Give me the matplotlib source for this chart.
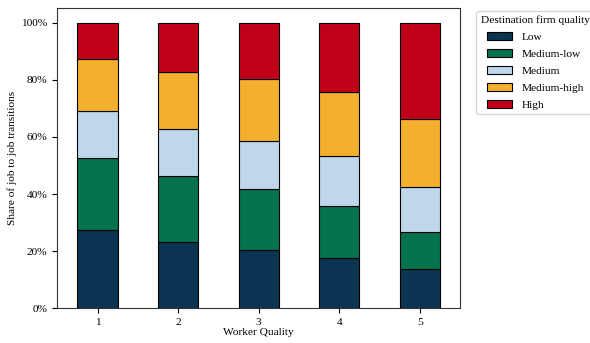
import matplotlib
matplotlib.use("Agg")
import matplotlib.pyplot as plt
import numpy as np
from matplotlib.ticker import PercentFormatter

plt.rcParams.update({
    "font.family": "serif",
    "font.serif": ["Liberation Serif", "DejaVu Serif"],
    "font.size": 8.2,
})

# Shares of job-to-job moves by destination firm quality, per worker quality bin
worker_quality = ["1", "2", "3", "4", "5"]
categories = ["Low", "Medium-low", "Medium", "Medium-high", "High"]
low = [0.274, 0.231, 0.205, 0.175, 0.138]
medium_low = [0.252, 0.231, 0.213, 0.183, 0.128]
medium = [0.164, 0.165, 0.169, 0.174, 0.159]
medium_high = [0.182, 0.201, 0.215, 0.226, 0.237]
high = [0.128, 0.172, 0.198, 0.242, 0.338]

colors = ["#0b3552", "#05734d", "#bfd7ea", "#f4af2f", "#c00018"]

fig = plt.figure(figsize=(5.9, 3.43), dpi=100)
ax = fig.add_axes([0.097, 0.101, 0.683, 0.875])

x = np.arange(len(worker_quality))
bottom = np.zeros(len(x))
for name, vals, col in zip(categories, [low, medium_low, medium, medium_high, high], colors):
    ax.bar(x, vals, width=0.5, bottom=bottom, color=col, edgecolor="black",
           linewidth=0.8, label=name)
    bottom += np.array(vals)

ax.set_xlim(-0.5, 4.5)
ax.set_ylim(0, 1.05)
ax.set_xticks(x)
ax.set_xticklabels(worker_quality)
ax.set_yticks(np.arange(0, 1.01, 0.2))
ax.yaxis.set_major_formatter(PercentFormatter(1.0, decimals=0))
ax.set_xlabel("Worker Quality", labelpad=1)
ax.set_ylabel("Share of job to job transitions", labelpad=3)

for s in ax.spines.values():
    s.set_color("#333333")

ax.legend(title="Destination firm quality", loc="upper left",
          bbox_to_anchor=(1.04, 0.99), borderaxespad=0, fontsize=8.2,
          title_fontsize=8.2, handlelength=2.2, labelspacing=0.6)

fig.savefig("out.png", dpi=100)
